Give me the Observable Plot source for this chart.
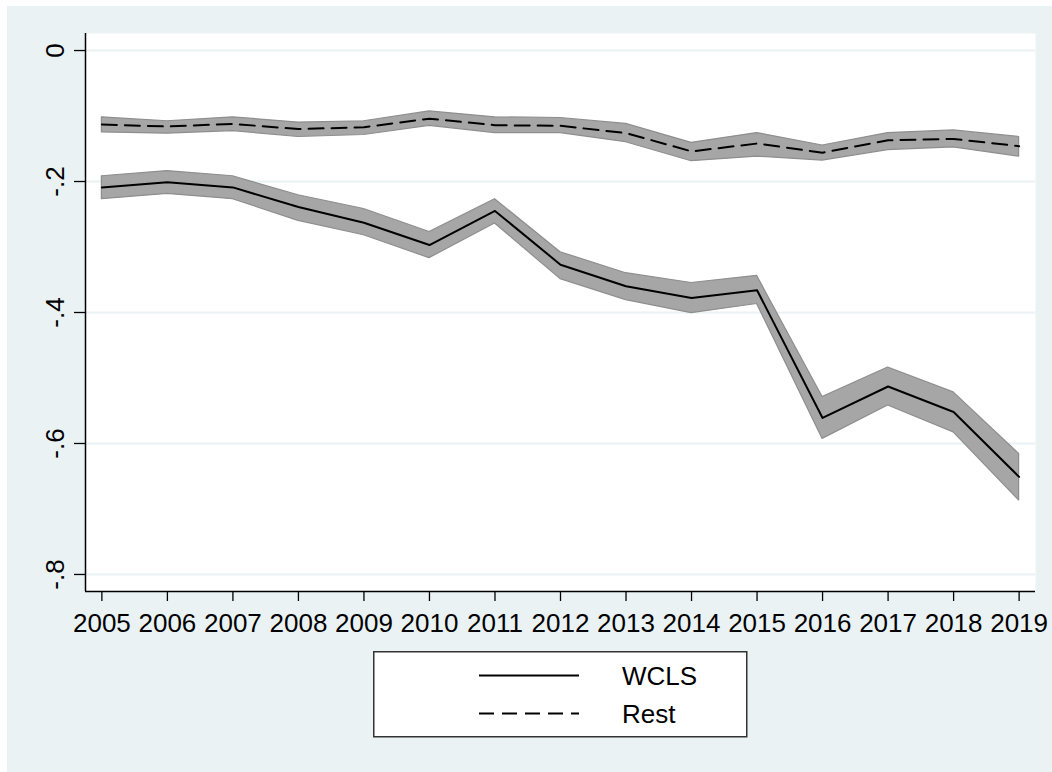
<!DOCTYPE html>
<html>
<head>
<meta charset="utf-8">
<script src="https://cdn.jsdelivr.net/npm/d3@7"></script>
<script src="https://cdn.jsdelivr.net/npm/@observablehq/plot@0.6"></script>
<style>
html, body { margin: 0; padding: 0; background: #fff; overflow: hidden; }
#wrap { position: relative; width: 1052px; height: 772px; background: #fff; font-family: "Liberation Sans", Arial, sans-serif; }
#bg { position: absolute; left: 7px; top: 6px; right: 0; bottom: 0; background: #EAF2F3; }
#chart { position: absolute; left: 0; top: 0; }
#legend { position: absolute; left: 373px; top: 651px; }
</style>
</head>
<body>
<div id="wrap">
  <div id="bg"></div>
  <div id="chart"></div>
  <div id="legend"></div>
</div>
<script>
const years = [2005, 2006, 2007, 2008, 2009, 2010, 2011, 2012, 2013, 2014, 2015, 2016, 2017, 2018, 2019];
const wcls   = [-0.209, -0.201, -0.209, -0.239, -0.263, -0.297, -0.245, -0.327, -0.360, -0.378, -0.366, -0.561, -0.513, -0.552, -0.651];
const wclsLo = [-0.227, -0.219, -0.227, -0.260, -0.282, -0.317, -0.264, -0.349, -0.381, -0.401, -0.387, -0.593, -0.542, -0.583, -0.687];
const wclsHi = [-0.192, -0.184, -0.192, -0.221, -0.242, -0.277, -0.227, -0.308, -0.340, -0.355, -0.344, -0.529, -0.484, -0.522, -0.616];
const rest   = [-0.113, -0.116, -0.112, -0.120, -0.117, -0.104, -0.114, -0.115, -0.126, -0.154, -0.142, -0.156, -0.137, -0.135, -0.146];
const restLo = [-0.125, -0.127, -0.123, -0.132, -0.129, -0.115, -0.126, -0.126, -0.140, -0.169, -0.162, -0.168, -0.152, -0.148, -0.162];
const restHi = [-0.102, -0.108, -0.102, -0.110, -0.108, -0.093, -0.102, -0.103, -0.112, -0.141, -0.126, -0.145, -0.126, -0.122, -0.132];
const yTicks = [0, -0.2, -0.4, -0.6, -0.8];
const yTickLabels = ["0", "-.2", "-.4", "-.6", "-.8"];
const seriesNames = ["WCLS", "Rest"];

const xDomain = [2004.75, 2019.25];
const yDomain = [-0.826, 0.026];

const wclsData = years.map((yr, i) => ({year: yr, v: wcls[i], lo: wclsLo[i], hi: wclsHi[i]}));
const restData = years.map((yr, i) => ({year: yr, v: rest[i], lo: restLo[i], hi: restHi[i]}));

const FONT = '"Liberation Sans", Arial, sans-serif';
const bandFill = "#a6a6a6", bandStroke = "#8e8e8e";

const chart = Plot.plot({
  width: 1052,
  height: 645,
  marginLeft: 85,
  marginRight: 17,
  marginTop: 33,
  marginBottom: 54,
  style: {background: "transparent", fontFamily: FONT, fontSize: "26px", color: "#000", overflow: "visible"},
  x: {domain: xDomain},
  y: {domain: yDomain},
  marks: [
    Plot.frame({fill: "white", stroke: "none"}),
    Plot.gridY(yTicks, {stroke: "#EAF2F3", strokeOpacity: 1, strokeWidth: 2}),
    Plot.areaY(restData, {x: "year", y1: "lo", y2: "hi", fill: bandFill, fillOpacity: 1, stroke: bandStroke, strokeWidth: 1.2}),
    Plot.areaY(wclsData, {x: "year", y1: "lo", y2: "hi", fill: bandFill, fillOpacity: 1, stroke: bandStroke, strokeWidth: 1.2}),
    Plot.line(restData, {x: "year", y: "v", stroke: "#000", strokeWidth: 2, strokeDasharray: "15,8"}),
    Plot.line(wclsData, {x: "year", y: "v", stroke: "#000", strokeWidth: 2}),
    Plot.ruleX([xDomain[0]], {stroke: "#000", strokeWidth: 1.5}),
    Plot.ruleY([yDomain[0]], {stroke: "#000", strokeWidth: 1.5}),
    Plot.axisX(years, {tickSize: 10, tickPadding: 12, tickFormat: d => String(d), fontSize: 26, label: null, strokeWidth: 1.3}),
    Plot.axisY(yTicks, {tickSize: 11, tickPadding: 11, tickRotate: -90, tickFormat: d => yTickLabels[yTicks.indexOf(d)], fontSize: 26, label: null, strokeWidth: 1.3})
  ]
});
document.getElementById("chart").appendChild(chart);

// Legend (below the plot area)
const lg = d3.select("#legend").append("svg")
  .attr("width", 376).attr("height", 88)
  .style("display", "block").style("overflow", "visible");
lg.append("rect").attr("x", 0.75).attr("y", 0.75).attr("width", 373).attr("height", 85)
  .attr("fill", "#fff").attr("stroke", "#333").attr("stroke-width", 1.5);
const dashes = [null, "15,8"];
seriesNames.forEach((name, i) => {
  const yy = 24.5 + i * 38;
  lg.append("line").attr("x1", 106).attr("x2", 206).attr("y1", yy).attr("y2", yy)
    .attr("stroke", "#000").attr("stroke-width", 2).attr("stroke-dasharray", dashes[i]);
  lg.append("text").attr("x", 249).attr("y", yy + 9.3).text(name)
    .attr("font-family", FONT).attr("font-size", 26).attr("fill", "#000");
});
</script>
</body>
</html>
